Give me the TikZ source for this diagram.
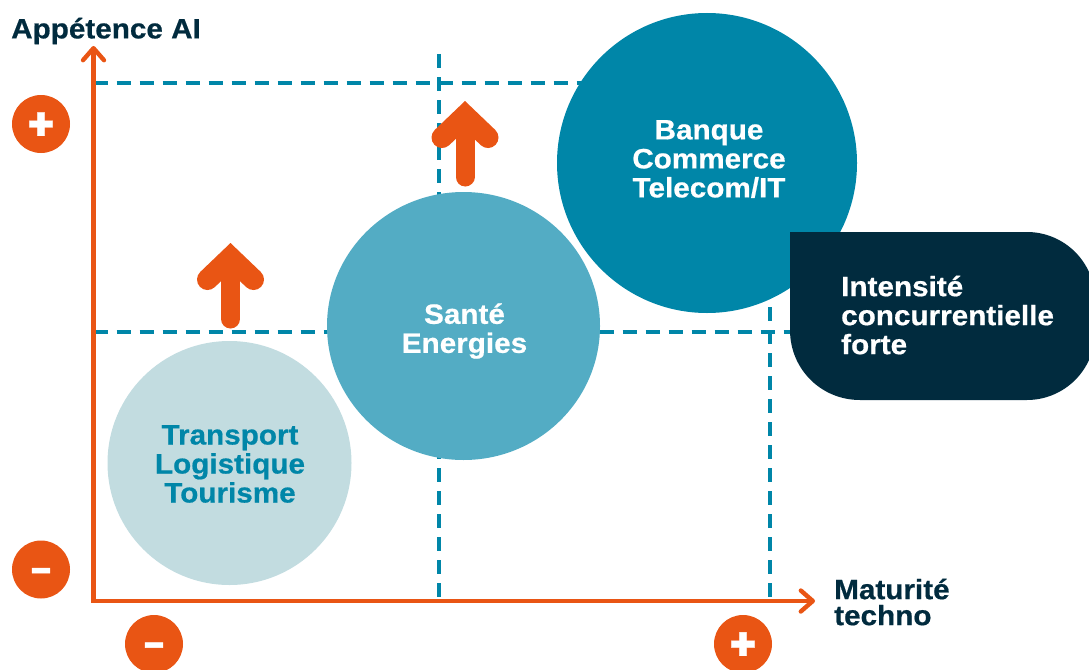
\documentclass[tikz,border=0pt]{standalone}
\usepackage{fontspec}
\setmainfont{Liberation Sans}[FakeStretch=1.06,BoldFeatures={FakeBold=0.6}]
\newfontfamily\plusfont{Fira Sans Bold}[FakeBold=0.5]
\newfontfamily\minusfont{Fira Sans Bold}[FakeBold=1.2]
\usetikzlibrary{arrows.meta,shapes.geometric}
\definecolor{orangeC}{HTML}{E95514}
\definecolor{tealC}{HTML}{0086A8}
\definecolor{midC}{HTML}{53ACC4}
\definecolor{paleC}{HTML}{C2DCE0}
\definecolor{navyC}{HTML}{012B3E}
\newcommand{\badgeglyph}[3]{\smash{\raisebox{#2}{\fontsize{#1}{#1}\selectfont #3}}}
\tikzset{
  x=1pt,y=-1pt,
  disc/.style={circle,inner sep=0pt,minimum size=#1,draw=none},
  lbl/.style={align=center,inner sep=0pt,text=white,font=\fontsize{28}{29}\selectfont\bfseries},
  axislabel/.style={align=left,inner sep=0pt,text=navyC,font=\fontsize{28}{26}\selectfont\bfseries},
  badge/.style={circle,fill=orangeC,inner sep=0pt,minimum size=58pt,text=white},
  grid/.style={draw=tealC,line width=4pt,dash pattern=on 14pt off 9pt},
  axis/.style={draw=orangeC,line width=4.4pt,-{Straight Barb[length=12pt,width=21pt,round,line width=4.4pt]}},
  uparrow/.style={draw=orangeC,line width=19pt,line cap=round,-{Straight Barb[length=22pt,width=46pt,line cap=round,line join=miter,line width=21pt]}},
}
\begin{document}
\begin{tikzpicture}
\useasboundingbox (0,0) rectangle (1089,669);
\clip (0,0) rectangle (1089,669);
\coordinate (origin) at (93.5,601);
\coordinate (ytop) at (93.5,46);
\coordinate (xend) at (815,601);
\coordinate (g1s) at (93.5,83);\coordinate (g1e) at (600,83);
\coordinate (g2s) at (93.5,332);\coordinate (g2e) at (792,332);
\coordinate (g3s) at (439,54);\coordinate (g3e) at (439,599);
\coordinate (g4s) at (770,307);\coordinate (g4e) at (770,599);
\draw[grid] (g1s) -- (g1e);
\draw[grid] (g2s) -- (g2e);
\draw[grid] (g3s) -- (g3e);
\draw[grid] (g4s) -- (g4e);
\draw[axis] (origin) -- (ytop);
\draw[axis] ([xshift=-2.2pt]origin) -- (xend);
\node[disc=300pt,fill=tealC] (banque) at (707,163) {};
\node[ellipse,inner sep=0pt,minimum width=273pt,minimum height=268pt,fill=midC] (sante) at (463.5,326) {};
\node[disc=244pt,fill=paleC] (transport) at (229.5,463) {};
\path[fill=navyC] (790,232) -- (1027,232) .. controls (1064,232) and (1095,262) .. (1095,300) -- (1095,332)
  .. controls (1095,370) and (1064,400) .. (1027,400) -- (860,400) .. controls (821,400) and (790,369) .. (790,330) -- cycle;
\node[lbl] (banqueT) at (709,159) {Banque\\Commerce\\Telecom/IT};
\node[lbl] (santeT) at (464.5,331) {Santé\\Energies};
\node[lbl,text=tealC] (transportT) at (230,464) {Transport\\Logistique\\Tourisme};
\node[lbl,align=left,anchor=west] (pillT) at (841,315) {Intensité\\concurrentielle\\forte};
\node[axislabel,anchor=west] (yT) at (11,31) {Appétence AI};
\node[axislabel,anchor=west] (xT) at (834,602) {Maturité\\techno};
\coordinate (u1b) at (465,177);\coordinate (u1t) at (465,101);
\coordinate (u2b) at (230.5,319);\coordinate (u2t) at (230.5,243);
\draw[uparrow] (u1b) -- (u1t);
\draw[uparrow] (u2b) -- (u2t);
\node[badge] (yplus) at (41,124) {\plusfont\badgeglyph{54}{-18pt}{+}};
\node[badge] (yminus) at (41,569.5) {\minusfont\badgeglyph{42}{-15pt}{−}};
\node[badge] (xminus) at (154,644) {\minusfont\badgeglyph{42}{-15pt}{−}};
\node[badge] (xplus) at (743,644) {\plusfont\badgeglyph{54}{-18pt}{+}};
\end{tikzpicture}
\end{document}
